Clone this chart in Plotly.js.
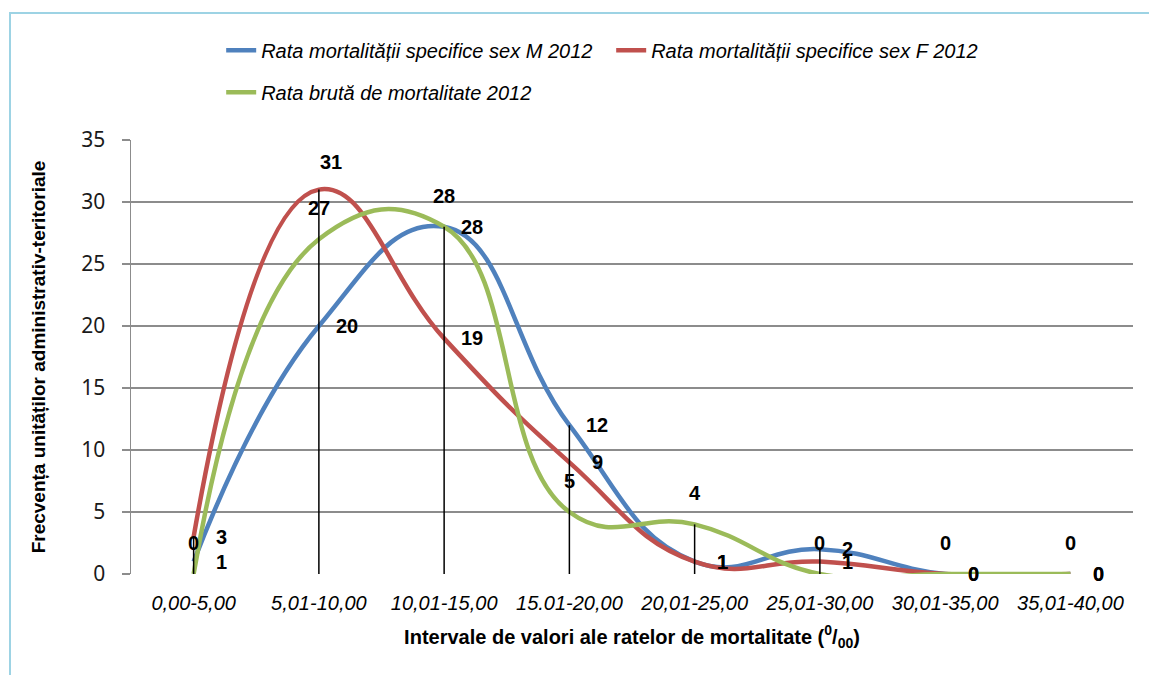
<!DOCTYPE html>
<html>
<head>
<meta charset="utf-8">
<script src="https://cdn.plot.ly/plotly-3.0.1.min.js"></script>
<style>
  html, body { margin: 0; padding: 0; background: #fff; }
  #wrap { position: relative; width: 1149px; height: 675px; }
  #chart { width: 1149px; height: 675px; }
  #frame { position: absolute; left: 9px; top: 12px; right: 0; bottom: -2px;
           border-left: 2px solid #9dd3e4; border-top: 2px solid #9dd3e4; pointer-events: none; }
</style>
</head>
<body>
<div id="wrap"><div id="chart"></div><div id="frame"></div></div>
<script>
const categories = ['0,00-5,00', '5,01-10,00', '10,01-15,00', '15.01-20,00', '20,01-25,00', '25,01-30,00', '30,01-35,00', '35,01-40,00'];
const seriesM = [1, 20, 28, 12, 1, 2, 0, 0];
const seriesF = [3, 31, 19, 9, 1, 1, 0, 0];
const seriesB = [0, 27, 28, 5, 4, 0, 0, 0];
const nameM = 'Rata mortalității specifice sex M 2012';
const nameF = 'Rata mortalității specifice sex F 2012';
const nameB = 'Rata brută de mortalitate 2012';

const NARROW = '"Liberation Sans Narrow", "Arial Narrow", "Liberation Sans", Arial, sans-serif';

function lineTrace(y, name, color, legend) {
  return {
    type: 'scatter', mode: 'lines', x: categories, y: y, name: name,
    legend: legend,
    line: { color: color, width: 4.5, shape: 'spline', smoothing: 1.3 },
    hoverinfo: 'x+y'
  };
}

const traces = [
  lineTrace(seriesM, nameM, '#4F81BD', 'legend'),
  lineTrace(seriesF, nameF, '#C0504D', 'legend'),
  lineTrace(seriesB, nameB, '#9BBB59', 'legend2')
];

// drop lines from the highest value at each category down to the axis
const dropX = [], dropY = [];
categories.forEach((c, i) => {
  dropX.push(c, c, null);
  dropY.push(0, Math.max(seriesM[i], seriesF[i], seriesB[i]), null);
});
traces.push({
  type: 'scatter', mode: 'lines', x: dropX, y: dropY, showlegend: false,
  line: { color: '#000', width: 1.5 }, hoverinfo: 'skip'
});

// data labels
const labelFont = { family: NARROW, size: 20, color: '#000', weight: 'bold' };
const annotations = [];
categories.forEach((c, i) => {
  annotations.push({ x: c, y: seriesM[i], text: '<b>' + seriesM[i] + '</b>', showarrow: false,
    xshift: 28, yshift: 0, font: labelFont });
  const fTop = (i === 1);
  annotations.push({ x: c, y: seriesF[i], text: '<b>' + seriesF[i] + '</b>', showarrow: false,
    xshift: fTop ? 12 : 28, yshift: fTop ? 28 : 0, font: labelFont });
  annotations.push({ x: c, y: seriesB[i], text: '<b>' + seriesB[i] + '</b>', showarrow: false,
    xshift: 0, yshift: 31, font: labelFont });
});

const layout = {
  width: 1149, height: 675,
  paper_bgcolor: '#fff', plot_bgcolor: '#fff',
  margin: { l: 130.5, r: 16, t: 140, b: 101 },
  showlegend: true,
  legend: {
    orientation: 'h', x: 0.09, xanchor: 'left', y: 1.207, yanchor: 'middle',
    font: { family: NARROW, size: 20, color: '#000', style: 'italic' },
    entrywidth: 345, bgcolor: 'rgba(0,0,0,0)'
  },
  legend2: {
    orientation: 'h', x: 0.09, xanchor: 'left', y: 1.11, yanchor: 'middle',
    font: { family: NARROW, size: 20, color: '#000', style: 'italic' },
    bgcolor: 'rgba(0,0,0,0)'
  },
  xaxis: {
    type: 'category', range: [-0.5, 7.5],
    showgrid: false, zeroline: false, showline: false, ticks: '',
    tickfont: { family: NARROW, size: 20, color: '#000', style: 'italic' },
    ticklabelstandoff: 15,
    title: { text: '<b>Intervale de valori ale ratelor de mortalitate (<sup>0</sup>/<sub>00</sub>)</b>',
             font: { family: NARROW, size: 20, color: '#000' }, standoff: 16 },
    fixedrange: true
  },
  yaxis: {
    range: [0, 35], dtick: 5, tick0: 0,
    showgrid: true, gridcolor: '#8c8c8c', gridwidth: 1.5,
    zeroline: false, showline: true, linecolor: '#8c8c8c', linewidth: 1.5,
    ticks: 'outside', ticklen: 8, tickcolor: '#8c8c8c', tickwidth: 1.5,
    ticklabelstandoff: 12,
    tickfont: { family: '"Noto Sans", "Open Sans", sans-serif', size: 21, color: '#1a1a1a' },
    title: { text: '<b>Frecvența unităților administrativ-teritoriale</b>',
             font: { family: NARROW, size: 19, color: '#000' }, standoff: 30 },
    fixedrange: true
  },
  annotations: annotations
};

Plotly.newPlot('chart', traces, layout, { displayModeBar: false, staticPlot: true });
</script>
</body>
</html>
